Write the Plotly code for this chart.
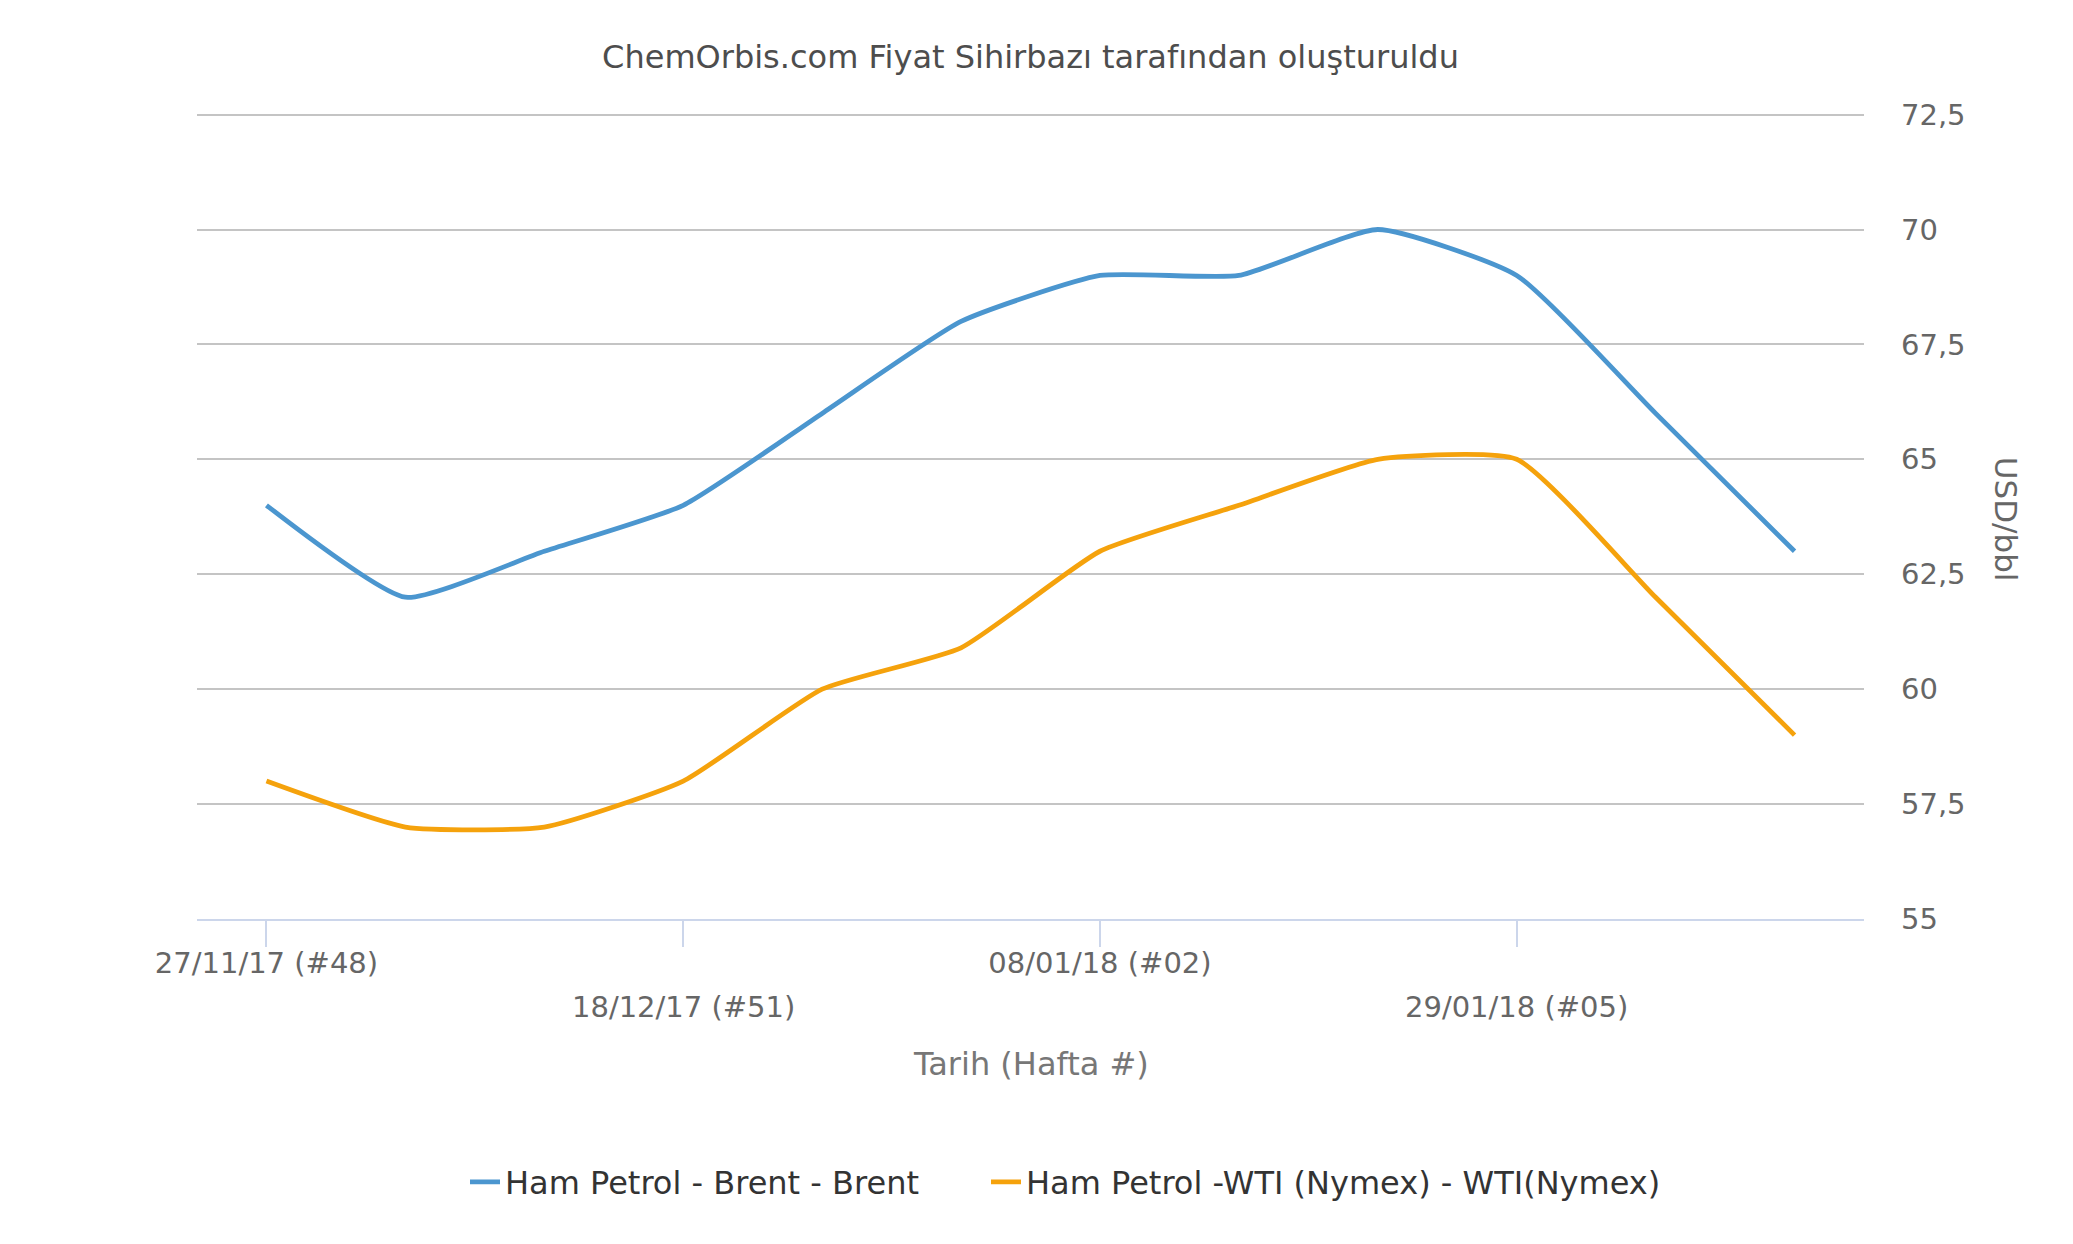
import plotly.graph_objects as go

# ---- data ----
weeks = ["27/11/17 (#48)", "04/12/17 (#49)", "11/12/17 (#50)", "18/12/17 (#51)",
         "25/12/17 (#52)", "01/01/18 (#01)", "08/01/18 (#02)", "15/01/18 (#03)",
         "22/01/18 (#04)", "29/01/18 (#05)", "05/02/18 (#06)", "12/02/18 (#07)"]
brent = [64, 62, 63, 64, 66, 68, 69, 69, 70, 69, 66, 63]
wti = [58, 57, 57, 58, 60, 60.9, 63, 64, 65, 65, 62, 59]
series_names = ["Ham Petrol - Brent - Brent", "Ham Petrol -WTI (Nymex) - WTI(Nymex)"]
y_ticks = [55, 57.5, 60, 62.5, 65, 67.5, 70, 72.5]

title_text = "ChemOrbis.com Fiyat Sihirbazı tarafından oluşturuldu"
x_title = "Tarih (Hafta #)"
y_title = "USD/bbl"

FONT = "DejaVu Sans"
OFF = 8  # page body margin
Y_MIN, Y_MAX = 55, 72.5
Y_PAD = 0.1  # tiny headroom so the top gridline is drawn
W, H = 2073 - OFF, 1244 - OFF
PL, PR, PB = 197 - OFF, 1864 - OFF, 919 - OFF
PT0 = 115 - OFF  # pixel of Y_MAX
px_per_unit = (PB - PT0) / (Y_MAX - Y_MIN)
PT = PT0 - Y_PAD * px_per_unit
L, R, T, B = PL, W - PR, PT, H - PB
PW, PH = PR - PL, PB - PT


def paper_y(fy):
    return (PB - fy) / PH


def paper_x(fx):
    return (fx - PL) / PW


xs = list(range(len(weeks)))
tick_idx_a = [0, 6]
tick_idx_b = [3, 9]

fig = go.Figure()
colors = ["#4b96cf", "#f5a20c"]
legend_ids = ["legend", "legend2"]
for name, vals, col, lg in zip(series_names, [brent, wti], colors, legend_ids):
    fig.add_trace(go.Scatter(
        x=xs, y=vals, name=name, mode="lines", legend=lg,
        line=dict(color=col, width=4.8, shape="spline", smoothing=0.5),
    ))

legend_common = dict(orientation="h", xanchor="left", xref="paper",
                     yanchor="middle", y=paper_y(1182 - OFF),
                     font=dict(family=FONT, size=32, color="#333333"),
                     bgcolor="rgba(0,0,0,0)")

fig.update_layout(
    width=W, height=H, autosize=False,
    margin=dict(l=L, r=R, t=T, b=B, pad=0),
    paper_bgcolor="white", plot_bgcolor="white",
    separators=",.",
    font=dict(family=FONT, color="#666666", size=29),
    title=dict(text=title_text, x=0.5, xanchor="center", xref="paper",
               y=1 - (57 - OFF) / H, yanchor="middle", yref="container",
               font=dict(family=FONT, size=32, color="#4d4d4d")),
    showlegend=True,
    legend=dict(x=paper_x(505 - OFF - 40), **legend_common),
    legend2=dict(x=paper_x(1026 - OFF - 40), **legend_common),
    xaxis=dict(
        range=[-0.5, len(weeks) - 0.5],
        tickmode="array",
        tickvals=tick_idx_a + tick_idx_b,
        ticktext=[weeks[i] for i in tick_idx_a] + ["" for _ in tick_idx_b],
        ticks="outside", ticklen=26, tickwidth=2, tickcolor="#ccd6eb",
        showgrid=False, zeroline=False,
        showline=True, linecolor="#ccd6eb", linewidth=2,
        tickfont=dict(family=FONT, size=29, color="#666666"),
        ticklabelstandoff=-9,
        fixedrange=True,
    ),
    yaxis=dict(
        side="right",
        range=[Y_MIN, Y_MAX + Y_PAD],
        tickmode="array", tickvals=y_ticks,
        showgrid=True, gridcolor="#c4c4c4", gridwidth=2,
        zeroline=False, showline=False, ticks="",
        tickfont=dict(family=FONT, size=29, color="#666666"),
        ticklabelstandoff=36,
        fixedrange=True,
    ),
)

# staggered second row of category labels
for i in tick_idx_b:
    fig.add_annotation(text=weeks[i], x=xs[i], xref="x",
                       y=paper_y(1007 - OFF), yref="paper",
                       xanchor="center", yanchor="middle", showarrow=False,
                       font=dict(family=FONT, size=29, color="#666666"))

# x axis title
fig.add_annotation(text=x_title, x=0.5, xref="paper",
                   y=paper_y(1064 - OFF), yref="paper",
                   xanchor="center", yanchor="middle", showarrow=False,
                   font=dict(family=FONT, size=32, color="#777777"))

# y axis title (reads top to bottom)
fig.add_annotation(text=y_title, xref="paper", yref="paper",
                   x=paper_x(2006 - OFF), y=paper_y(520 - OFF),
                   xanchor="center", yanchor="middle", textangle=90,
                   showarrow=False,
                   font=dict(family=FONT, size=31, color="#666666"))

fig.write_html("out.html", include_plotlyjs=True, config={"displayModeBar": False})
